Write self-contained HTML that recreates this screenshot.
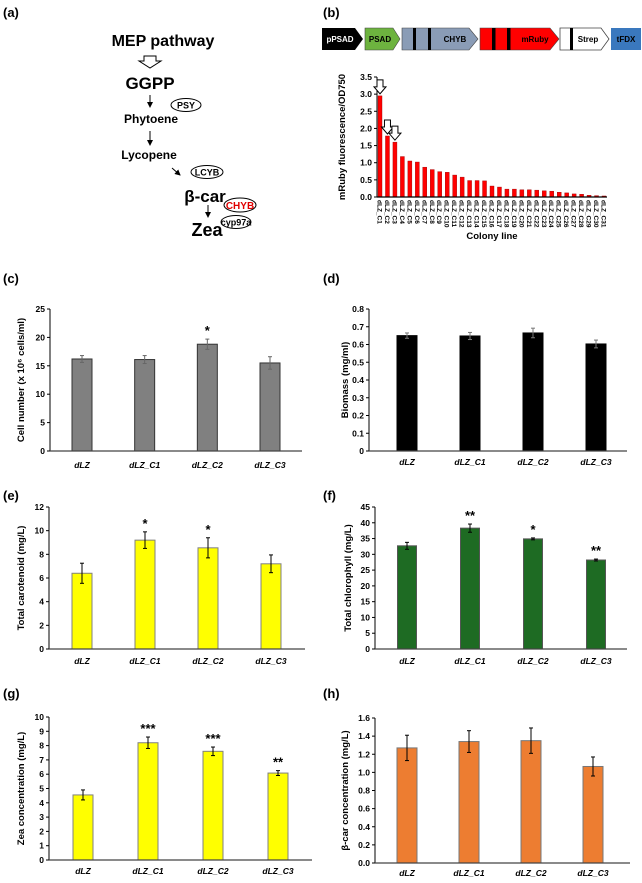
<!DOCTYPE html>
<html><head><meta charset="utf-8"><style>
body{margin:0;background:#fff;}
svg{display:block;font-family:"Liberation Sans",Arial,sans-serif;}
.b{font-weight:bold;}
</style></head><body>
<svg id="fig" width="642" height="883" viewBox="0 0 642 883" xmlns="http://www.w3.org/2000/svg">
<defs>
<marker id="ah" markerWidth="6" markerHeight="6" refX="5" refY="3" orient="auto"><path d="M0,0 L6,3 L0,6 z" fill="#000"/></marker>
</defs>
<g class="b" font-size="13">
<text x="3" y="17">(a)</text>
<text x="323" y="17">(b)</text>
<text x="3" y="283">(c)</text>
<text x="323" y="283">(d)</text>
<text x="3" y="500">(e)</text>
<text x="323" y="500">(f)</text>
<text x="3" y="698">(g)</text>
<text x="323" y="698">(h)</text>
</g>
<g class="b" text-anchor="middle">
<text x="163" y="46" font-size="16">MEP pathway</text>
<path d="M144,56 h12 v5 h5 l-11,7 l-11,-7 h5 z" fill="#fff" stroke="#000" stroke-width="1"/>
<text x="150" y="89" font-size="17">GGPP</text>
<line x1="150" y1="95" x2="150" y2="107" stroke="#000" marker-end="url(#ah)"/>
<ellipse cx="186" cy="105" rx="15" ry="6.5" fill="#fff" stroke="#000"/>
<text x="186" y="108.5" font-size="9">PSY</text>
<text x="151" y="123" font-size="12">Phytoene</text>
<line x1="150" y1="131" x2="150" y2="145" stroke="#000" marker-end="url(#ah)"/>
<text x="149" y="159" font-size="12">Lycopene</text>
<line x1="172" y1="168" x2="180" y2="175" stroke="#000" marker-end="url(#ah)"/>
<ellipse cx="207" cy="172" rx="16" ry="6.5" fill="#fff" stroke="#000"/>
<text x="207" y="175.5" font-size="9">LCYB</text>
<text x="205" y="202" font-size="17">β-car</text>
<ellipse cx="240" cy="205" rx="16" ry="7" fill="#fff" stroke="#000"/>
<text x="240" y="209" font-size="10" fill="#e00000">CHYB</text>
<line x1="208" y1="205" x2="208" y2="217" stroke="#000" marker-end="url(#ah)"/>
<ellipse cx="236" cy="222" rx="15" ry="6.5" fill="#fff" stroke="#000"/>
<text x="236" y="225.5" font-size="9">cyp97a</text>
<text x="207" y="236" font-size="18">Zea</text>
</g>
<g class="b" font-size="8" text-anchor="middle">
<path d="M322,28 h33 l8,11 l-8,11 h-33 z" fill="#000"/>
<text x="340" y="42" fill="#fff">pPSAD</text>
<path d="M365,28 h28 l7,11 l-7,11 h-28 z" fill="#6db33f" stroke="#444" stroke-width="0.6"/>
<text x="380" y="42">PSAD</text>
<path d="M402,28 h67 l9,11 l-9,11 h-67 z" fill="#8a9cb6" stroke="#444" stroke-width="0.6"/>
<rect x="413" y="28" width="3" height="22" fill="#000"/><rect x="428" y="28" width="3" height="22" fill="#000"/>
<text x="455" y="42">CHYB</text>
<path d="M480,28 h70 l9,11 l-9,11 h-70 z" fill="#f00" stroke="#444" stroke-width="0.6"/>
<rect x="492" y="28" width="3.5" height="22" fill="#000"/><rect x="507" y="28" width="3.5" height="22" fill="#000"/>
<text x="535" y="42">mRuby</text>
<path d="M560,28 h41 l8,11 l-8,11 h-41 z" fill="#fff" stroke="#444" stroke-width="0.8"/>
<rect x="570" y="28" width="3" height="22" fill="#000"/>
<text x="588" y="42">Strep</text>
<rect x="611" y="28" width="30" height="22" fill="#3a78be"/>
<text x="626" y="42">tFDX</text>
</g>
<g id="gb"></g>
<g id="gc"></g>
<g id="gd"></g>
<g id="ge"></g>
<g id="gf"></g>
<g id="gg"></g>
<g id="gh"></g>
</svg>
<script>
const NS="http://www.w3.org/2000/svg";
const colonyLabels=["dLZ_C1","dLZ_C2","dLZ_C3","dLZ_C4","dLZ_C5","dLZ_C6","dLZ_C7","dLZ_C8","dLZ_C9","dLZ_C10","dLZ_C11","dLZ_C12","dLZ_C13","dLZ_C14","dLZ_C15","dLZ_C16","dLZ_C17","dLZ_C18","dLZ_C19","dLZ_C20","dLZ_C21","dLZ_C22","dLZ_C23","dLZ_C24","dLZ_C25","dLZ_C26","dLZ_C27","dLZ_C28","dLZ_C29","dLZ_C30","dLZ_C31"];
const colonyValues=[2.95,1.78,1.6,1.18,1.05,1.02,0.87,0.8,0.74,0.72,0.64,0.58,0.48,0.48,0.47,0.32,0.29,0.23,0.23,0.21,0.21,0.2,0.18,0.17,0.14,0.12,0.09,0.08,0.05,0.04,0.03];
const colonyTicks=["0.0","0.5","1.0","1.5","2.0","2.5","3.0","3.5"];
const arrowedColonies=[0,1,2];
const strains=["dLZ","dLZ_C1","dLZ_C2","dLZ_C3"];
const cellValues=[16.2,16.1,18.8,15.5];
const cellErrors=[0.6,0.7,0.9,1.1];
const cellStars=["","","*",""];
const cellTicks=["0","5","10","15","20","25"];
const biomassValues=[0.65,0.648,0.665,0.603];
const biomassErrors=[0.015,0.02,0.027,0.022];
const biomassStars=["","","",""];
const biomassTicks=["0","0.1","0.2","0.3","0.4","0.5","0.6","0.7","0.8"];
const carotValues=[6.4,9.2,8.55,7.2];
const carotErrors=[0.85,0.7,0.85,0.75];
const carotStars=["","*","*",""];
const carotTicks=["0","2","4","6","8","10","12"];
const chlValues=[32.7,38.3,34.9,28.2];
const chlErrors=[1.1,1.3,0.3,0.3];
const chlStars=["","**","*","**"];
const chlTicks=["0","5","10","15","20","25","30","35","40","45"];
const zeaValues=[4.55,8.2,7.6,6.08];
const zeaErrors=[0.35,0.4,0.3,0.17];
const zeaStars=["","***","***","**"];
const zeaTicks=["0","1","2","3","4","5","6","7","8","9","10"];
const bcarValues=[1.27,1.34,1.35,1.065];
const bcarErrors=[0.14,0.12,0.14,0.105];
const bcarStars=["","","",""];
const bcarTicks=["0.0","0.2","0.4","0.6","0.8","1.0","1.2","1.4","1.6"];

function mk(tag,attrs,parent,txt){const e=document.createElementNS(NS,tag);for(const k in attrs)e.setAttribute(k,attrs[k]);if(txt!==undefined)e.textContent=txt;parent.appendChild(e);return e;}

function barChart(o){
  const g=document.getElementById(o.id);
  const max=parseFloat(o.ticks[o.ticks.length-1]);
  const y=v=>o.y0-(v/max)*(o.y0-o.y1);
  const n=o.values.length;
  const x=i=>o.cx0+i*(o.cx1-o.cx0)/(n-1);
  o.ticks.forEach(t=>{
    const v=parseFloat(t);
    const tl=mk("line",{x1:o.ax-3,x2:o.ax,y1:y(v),y2:y(v),stroke:"#000","stroke-width":1},g);
    
    
    const tt=mk("text",{x:o.ax-5,y:y(v)+3,"font-size":8.5,"font-weight":"bold","text-anchor":"end"},g,t);
    
    
  });
  o.values.forEach((v,i)=>{
    const r=mk("rect",{x:x(i)-o.bw/2,y:y(v),width:o.bw,height:o.y0-y(v),fill:o.fill,stroke:o.stroke,"stroke-width":o.sw||1},g);
    
    
    if(o.errors){
      const e=o.errors[i];const ec=o.ecol||"#000";
      const eg=mk("g",{stroke:ec,"stroke-width":1},g);
      
      
      mk("line",{x1:x(i),x2:x(i),y1:y(v+e),y2:y(v-e)},eg);
      mk("line",{x1:x(i)-2,x2:x(i)+2,y1:y(v+e),y2:y(v+e)},eg);
      mk("line",{x1:x(i)-2,x2:x(i)+2,y1:y(v-e),y2:y(v-e)},eg);
      if(o.stars&&o.stars[i]){
        const s=mk("text",{x:x(i),y:y(v+e)-4,"font-size":13,"font-weight":"bold","text-anchor":"middle"},g,o.stars[i]);
        
        
      }
    }
    if(o.rot){
      const c=mk("text",{transform:`translate(${x(i)-2.5},${o.y0+3}) rotate(90)`,"font-size":6.5,"font-weight":"bold"},g,o.cats[i]);
      
      
    } else {
      const c=mk("text",{x:x(i),y:o.ly,"font-size":8.5,"font-weight":"bold","font-style":"italic","text-anchor":"middle"},g,o.cats[i]);
      
      
    }
  });
  const ya=mk("line",{x1:o.ax,x2:o.ax,y1:o.y1,y2:o.y0,stroke:"#000","stroke-width":1},g);
  
  
  const xa=mk("line",{x1:o.ax,x2:o.xr,y1:o.y0,y2:o.y0,stroke:o.xcol||"#444","stroke-width":1.3},g);
  
  
  const yt=mk("text",{transform:`translate(${o.tx},${(o.y0+o.y1)/2}) rotate(-90)`,"font-size":o.tfs||9.5,"font-weight":"bold","text-anchor":"middle"},g,o.title);
  
  
  return {x,y,g};
}

const b=barChart({id:"gb",cats:colonyLabels,values:colonyValues,ticks:colonyTicks,ax:377,xr:607,y0:197,y1:77,cx0:380,cx1:604,bw:4,fill:"#f00",stroke:"#900",sw:0.4,rot:true,title:"mRuby fluorescence/OD750",tx:345,tfs:9.5,xcol:"#000"});
arrowedColonies.forEach(i=>{
  const cx=b.x(i),top=b.y(colonyValues[i])-2;
  const a=mk("path",{d:`M${cx-3},${top-14} h6 v7 h3 l-6,7 l-6,-7 h3 z`,fill:"#fff",stroke:"#000","stroke-width":1},b.g);
  
  
});
const ct=mk("text",{x:492,y:239,"font-size":9.5,"font-weight":"bold","text-anchor":"middle"},b.g,"Colony line");



barChart({id:"gc",cats:strains,values:cellValues,errors:cellErrors,stars:cellStars,ticks:cellTicks,ax:50,xr:302,y0:451,y1:309,cx0:82,cx1:270,bw:20,fill:"#808080",stroke:"#333",ecol:"#666",ly:468,title:"Cell number (x 10⁶ cells/ml)",tx:24});
barChart({id:"gd",cats:strains,values:biomassValues,errors:biomassErrors,stars:biomassStars,ticks:biomassTicks,ax:369,xr:627,y0:451,y1:309,cx0:407,cx1:596,bw:20,fill:"#000",stroke:"#000",ecol:"#777",ly:465,title:"Biomass (mg/ml)",tx:348});
barChart({id:"ge",cats:strains,values:carotValues,errors:carotErrors,stars:carotStars,ticks:carotTicks,ax:49,xr:305,y0:649,y1:507,cx0:82,cx1:271,bw:20,fill:"#ffff00",stroke:"#808080",ly:664,title:"Total carotenoid (mg/L)",tx:24});
barChart({id:"gf",cats:strains,values:chlValues,errors:chlErrors,stars:chlStars,ticks:chlTicks,ax:375,xr:627,y0:649,y1:507,cx0:407,cx1:596,bw:19,fill:"#1e6b23",stroke:"#555",ly:664,title:"Total chlorophyll (mg/L)",tx:351});
barChart({id:"gg",cats:strains,values:zeaValues,errors:zeaErrors,stars:zeaStars,ticks:zeaTicks,ax:49,xr:312,y0:860,y1:717,cx0:83,cx1:278,bw:20,fill:"#ffff00",stroke:"#808080",ly:874,title:"Zea concentration (mg/L)",tx:24});
barChart({id:"gh",cats:strains,values:bcarValues,errors:bcarErrors,stars:bcarStars,ticks:bcarTicks,ax:375,xr:630,y0:863,y1:718,cx0:407,cx1:593,bw:20,fill:"#ed7d31",stroke:"#777",ly:876,title:"β-car concentration (mg/L)",tx:348});
</script>
</body></html>
